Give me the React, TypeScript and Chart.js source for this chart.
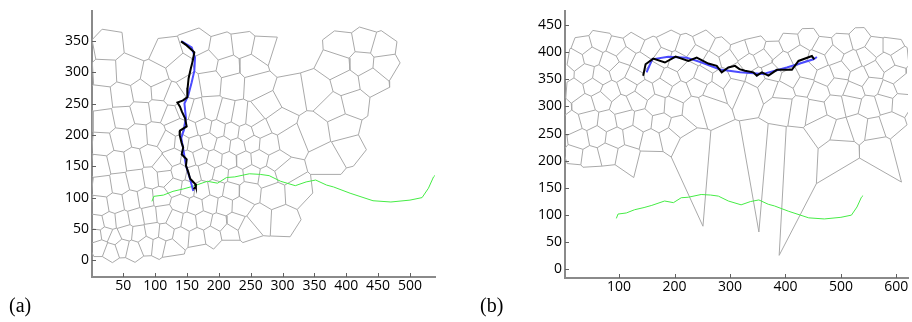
import React, { useEffect, useRef } from 'react';
import { Chart, registerables } from 'chart.js';

Chart.register(...registerables);

type P = [number, number];

// ---------- tick labels ----------
const xTicksA = [50, 100, 150, 200, 250, 300, 350, 400, 450, 500];
const yTicksA = [0, 50, 100, 150, 200, 250, 300, 350];
const xTicksB = [100, 200, 300, 400, 500, 600];
const yTicksB = [0, 50, 100, 150, 200, 250, 300, 350, 400, 450];

// ---------- true path (green), same in both panels ----------
const trueX = [95, 98, 113, 128, 145, 159, 182, 198, 212, 225, 248, 265, 279, 297, 320, 337, 352, 369, 380, 406, 442, 470, 500, 519, 529, 537, 540];
const trueY = [94, 102, 104, 110, 114, 118, 126, 123, 132, 133, 138, 137, 135, 126, 119, 125, 128, 120, 117, 107, 95, 93, 96, 100, 115, 133, 136];

// ---------- panel (a) paths ----------
const blackAX = [140.6, 149.5, 161.5, 159, 156, 152.5, 151, 150.5, 144, 135, 139, 142, 147, 149.5, 139, 138.5, 141.5, 144, 141.7, 149.5, 148.4, 152, 155, 162.6, 164, 160];
const blackAY = [349, 342.7, 331.7, 318, 306, 290, 275, 260, 255, 251.5, 245, 237, 226.6, 213.5, 206.7, 200, 187.5, 180, 169, 161, 151, 140.6, 130, 122, 117, 113.6];
const blueAX = [141.7, 157.4, 162.6, 161.5, 157.4, 152, 146, 148.4, 145.3, 141, 144.2, 148.4, 154.7, 159.9];
const blueAY = [349, 339.5, 323, 302, 284, 263, 250, 226.6, 208.3, 195, 177, 151, 130, 110.4];

// ---------- panel (b) paths ----------
const blackBX = [143.4, 147.7, 161.5, 182.6, 201.9, 224.7, 239.9, 260.9, 276, 285, 297, 309, 317, 327, 342, 348.3, 357.4, 369.3, 384.5, 411.6, 423.5, 447.7, 451.9];
const blackBY = [356.7, 377.8, 388, 380.9, 391.7, 383.8, 390, 379, 374.7, 362.8, 371.8, 374.7, 368.8, 365.7, 362.8, 356.7, 362.8, 356.7, 367.5, 367.5, 383.8, 392.8, 386.8];
const blueBX = [149.5, 159.7, 188.6, 221.8, 249, 282, 318, 360, 402.5, 450.6, 456.7];
const blueBY = [362.8, 386.8, 391.7, 389.9, 380.9, 368, 362.8, 359.7, 371.8, 386.8, 391];

// ---------- Voronoi sites, panel (a) ----------
const cellSitesA: P[] = [
  [22, 342], [20, 298], [58, 300], [118, 330], [98, 292], [165, 345], [205, 338], [238, 342], [268, 336], [140, 305], [180, 315], [215, 308], [250, 310],
  [395, 342], [428, 348], [456, 340], [385, 312], [425, 315], [460, 312],
  [15, 258], [48, 262], [80, 268], [108, 270], [128, 262], [155, 280], [185, 285], [222, 282], [258, 280], [312, 263], [355, 270], [400, 282], [440, 288],
  [380, 245], [410, 252], [350, 205], [395, 212], [372, 160], [404, 178], [312, 190],
  [20, 222], [50, 228], [78, 236], [105, 240], [125, 232],
  [145, 240], [166, 234], [188, 238], [210, 232], [232, 228], [254, 226], [276, 244], [292, 222],
  [134, 212], [154, 208], [176, 213], [198, 209], [220, 206], [242, 203], [264, 210],
  [142, 188], [162, 185], [184, 190], [206, 184], [229, 181], [252, 186], [276, 184],
  [130, 164], [151, 161], [171, 166], [193, 161], [216, 159], [239, 160], [263, 162], [290, 156],
  [139, 141], [159, 137], [181, 142], [203, 137], [226, 135], [251, 138], [276, 134], [302, 142],
  [131, 117], [151, 114], [173, 111], [196, 115], [219, 111], [246, 110], [286, 106], [322, 108],
  [141, 91], [163, 87], [186, 90], [209, 87], [233, 86],
  [131, 65], [153, 61], [176, 64], [200, 59], [225, 62], [262, 66], [302, 64],
  [141, 39], [165, 37], [190, 41], [215, 46], [245, 52],
  [18, 185], [46, 192], [74, 198], [100, 200], [120, 190],
  [14, 150], [40, 156], [66, 160], [92, 166], [112, 150],
  [18, 118], [44, 122], [70, 128], [94, 132], [114, 134],
  [14, 86], [38, 90], [62, 94], [86, 98], [108, 100],
  [10, 58], [28, 62], [48, 64], [70, 68], [92, 72], [112, 74],
  [8, 40], [22, 42], [36, 36], [54, 44], [74, 42], [96, 46], [116, 44],
  [14, 22], [30, 16], [48, 22], [66, 18], [86, 26], [106, 24], [124, 20],
];
const outerSitesA: P[] = [
  [-15, 8], [-15, 38], [-15, 65], [-15, 92], [-15, 122], [-15, 155], [-15, 188], [-15, 222], [-15, 258], [-15, 296], [-15, 335], [-10, 372],
  [30, 392], [78, 348], [112, 380], [150, 388], [192, 382], [232, 384], [270, 378], [300, 326], [332, 338], [362, 385], [400, 386], [440, 388], [480, 374],
  [500, 334], [494, 292], [462, 246], [446, 200], [440, 150], [418, 122], [372, 114], [350, 82], [340, 40],
  [300, 12], [258, 14], [215, 18], [170, 10], [128, -6], [88, -12], [50, -14], [14, -10],
];

// ---------- Voronoi sites, panel (b) ----------
const cellSitesB: P[] = [
  [35, 412], [64, 420], [97, 408], [126, 418], [158, 405], [190, 420], [220, 410], [254, 422], [283, 408], [316, 402], [347, 412], [376, 404], [408, 418], [441, 425], [468, 410], [503, 416], [533, 424], [560, 408], [594, 410],
  [20, 386], [50, 393], [84, 382], [110, 395], [141, 380], [178, 391], [205, 383], [240, 396], [266, 381], [297, 389], [332, 379], [360, 391], [395, 382], [423, 395], [458, 386], [486, 396], [520, 383], [546, 393], [580, 381], [606, 392],
  [40, 360], [66, 356], [100, 366], [126, 354], [162, 364], [190, 352], [224, 365], [250, 355], [286, 351], [312, 363], [348, 353], [374, 362], [410, 352], [438, 366], [472, 355], [498, 365], [534, 355], [560, 367], [596, 358],
  [18, 330], [54, 338], [82, 327], [117, 339], [144, 329], [180, 337], [208, 326], [242, 339], [270, 327], [306, 337], [334, 325], [368, 337], [396, 327], [432, 339], [460, 327], [494, 338], [522, 327], [557, 339], [584, 329], [611, 340],
  [38, 303], [68, 312], [104, 301], [132, 313], [168, 302], [196, 300], [234, 296], [262, 304], [394, 303], [426, 298], [454, 294], [490, 302], [518, 308], [552, 300], [578, 308], [608, 306],
  [15, 268], [45, 276], [78, 272], [110, 278], [142, 274], [176, 270], [205, 262],
  [28, 240], [60, 246], [92, 242], [124, 246], [158, 238], [190, 245],
  [18, 210], [48, 206], [80, 214], [112, 208], [157, 197],
  [226, 228], [300, 222], [350, 230.6], [381, 228], [418, 226],
  [470, 262], [502, 252], [532, 262], [560, 258], [590, 268], [500, 222],
  [533, 167.5], [566, 224], [617, 237],
];
const outerSitesB: P[] = [
  [-12, 200], [-14, 235], [-20, 270], [-10, 300], [-8, 332], [-2, 362], [-4, 390], [0, 425],
  [30, 445], [70, 455], [105, 446], [140, 442], [175, 450], [208, 456], [240, 450], [275, 446], [305, 432], [340, 442], [375, 436], [410, 450], [440, 462], [472, 446], [505, 452], [532, 466], [565, 448], [598, 440], [628, 428],
  [636, 395], [640, 360], [642, 322], [642, 285], [660, 252],
  [15, 178], [50, 172], [85, 169.5],
];

// ---------- geometry helpers ----------
type Tri = { v: [number, number, number]; x: number; y: number; r: number };

function circum(pts: P[], a: number, b: number, c: number): Tri {
  const [ax, ay] = pts[a];
  const [bx, by] = pts[b];
  const [cx, cy] = pts[c];
  const d = 2 * (ax * (by - cy) + bx * (cy - ay) + cx * (ay - by));
  const a2 = ax * ax + ay * ay, b2 = bx * bx + by * by, c2 = cx * cx + cy * cy;
  const ux = (a2 * (by - cy) + b2 * (cy - ay) + c2 * (ay - by)) / d;
  const uy = (a2 * (cx - bx) + b2 * (ax - cx) + c2 * (bx - ax)) / d;
  return { v: [a, b, c], x: ux, y: uy, r: (ax - ux) ** 2 + (ay - uy) ** 2 };
}

function delaunay(input: P[]): Tri[] {
  const n = input.length;
  let minX = Infinity, minY = Infinity, maxX = -Infinity, maxY = -Infinity;
  for (const [x, y] of input) {
    minX = Math.min(minX, x); maxX = Math.max(maxX, x);
    minY = Math.min(minY, y); maxY = Math.max(maxY, y);
  }
  const dm = Math.max(maxX - minX, maxY - minY) * 60;
  const mx = (minX + maxX) / 2, my = (minY + maxY) / 2;
  const pts: P[] = input.concat([[mx - dm, my - dm], [mx, my + dm], [mx + dm, my - dm]]);
  let tris: Tri[] = [circum(pts, n, n + 1, n + 2)];
  for (let i = 0; i < n; i++) {
    const [px, py] = pts[i];
    const good: Tri[] = [];
    const edges = new Map<string, [number, number, number]>();
    for (const t of tris) {
      const dx = px - t.x, dy = py - t.y;
      if (dx * dx + dy * dy < t.r) {
        const [a, b, c] = t.v;
        for (const [u, w] of [[a, b], [b, c], [c, a]]) {
          const k = u < w ? u + '_' + w : w + '_' + u;
          const e = edges.get(k);
          if (e) e[2]++; else edges.set(k, [u, w, 1]);
        }
      } else good.push(t);
    }
    for (const [u, w, cnt] of edges.values()) if (cnt === 1) good.push(circum(pts, u, w, i));
    tris = good;
  }
  return tris.filter(t => t.v.every(v => v < n));
}

function voronoiData(inner: P[], outer: P[], xr: P, yr: P, margin: number) {
  const pts = inner.concat(outer);
  const nIn = inner.length;
  const tris = delaunay(pts);
  const map = new Map<string, number[]>();
  tris.forEach((t, k) => {
    const [a, b, c] = t.v;
    for (const [u, w] of [[a, b], [b, c], [c, a]]) {
      const key = u < w ? u + '_' + w : w + '_' + u;
      const l = map.get(key);
      if (l) l.push(k); else map.set(key, [k]);
    }
  });
  const ok = (x: number, y: number) =>
    x >= xr[0] - margin && x <= xr[1] + margin && y >= yr[0] - margin && y <= yr[1] + margin;
  const out: { x: number; y: number | null }[] = [];
  for (const [key, list] of map) {
    if (list.length !== 2) continue;
    const [u, w] = key.split('_').map(Number);
    if (u >= nIn && w >= nIn) continue;
    const t1 = tris[list[0]], t2 = tris[list[1]];
    if (!ok(t1.x, t1.y) || !ok(t2.x, t2.y)) continue;
    out.push({ x: t1.x, y: t1.y }, { x: t2.x, y: t2.y }, { x: t2.x, y: null });
  }
  return out;
}

const zip = (xs: number[], ys: number[]) => xs.map((x, i) => ({ x, y: ys[i] }));

const inwardTicks = {
  id: 'inwardTicks',
  afterDatasetsDraw(chart: any) {
    const { ctx, chartArea, scales } = chart;
    ctx.save();
    ctx.strokeStyle = '#606060';
    ctx.lineWidth = 1;
    for (const t of scales.x.ticks) {
      const px = Math.round(scales.x.getPixelForValue(t.value)) + 0.5;
      ctx.beginPath(); ctx.moveTo(px, chartArea.bottom); ctx.lineTo(px, chartArea.bottom - 4); ctx.stroke();
    }
    for (const t of scales.y.ticks) {
      const py = Math.round(scales.y.getPixelForValue(t.value)) + 0.5;
      ctx.beginPath(); ctx.moveTo(chartArea.left, py); ctx.lineTo(chartArea.left + 4, py); ctx.stroke();
    }
    ctx.restore();
  },
};

type PanelCfg = {
  left: number;
  xr: P; yr: P;
  xTicks: number[]; yTicks: number[];
  yAxisWidth: number; xAxisHeight: number; padRight: number;
  inner: P[]; outer: P[]; margin: number;
  blackX: number[]; blackY: number[]; blueX: number[]; blueY: number[];
};

function Panel({ cfg }: { cfg: PanelCfg }) {
  const ref = useRef<HTMLCanvasElement>(null);
  useEffect(() => {
    const vor = voronoiData(cfg.inner, cfg.outer, cfg.xr, cfg.yr, cfg.margin);
    const font = { family: "'Open Sans', 'Liberation Sans', Arial, sans-serif", size: 14 };
    const border = { display: true, color: '#8a8a8a', width: 2 };
    const grid = { display: false, drawTicks: false, tickLength: 0 };
    const chart = new Chart(ref.current as HTMLCanvasElement, {
      type: 'scatter',
      data: {
        datasets: [
          { data: zip(cfg.blackX, cfg.blackY), showLine: true, borderColor: '#000000', borderWidth: 2, pointRadius: 0 },
          { data: zip(cfg.blueX, cfg.blueY), showLine: true, borderColor: '#4b4bff', borderWidth: 2, pointRadius: 0 },
          { data: zip(trueX, trueY), showLine: true, borderColor: '#45ec45', borderWidth: 1, pointRadius: 0 },
          { data: vor as any, showLine: true, borderColor: '#a9a9a9', borderWidth: 1, pointRadius: 0, spanGaps: false },
        ],
      },
      options: {
        animation: false,
        responsive: false,
        maintainAspectRatio: false,
        events: [],
        layout: { padding: { top: 6, right: cfg.padRight, bottom: 0, left: 0 } },
        plugins: { legend: { display: false }, tooltip: { enabled: false } },
        scales: {
          x: {
            type: 'linear', min: cfg.xr[0], max: cfg.xr[1],
            grid, border,
            afterBuildTicks: (s: any) => { s.ticks = cfg.xTicks.map(v => ({ value: v })); },
            afterFit: (s: any) => { s.height = cfg.xAxisHeight; },
            ticks: { color: '#000', font, padding: 1, maxRotation: 0, autoSkip: false, callback: (v: any) => String(v) },
          },
          y: {
            type: 'linear', min: cfg.yr[0], max: cfg.yr[1],
            grid, border,
            afterBuildTicks: (s: any) => { s.ticks = cfg.yTicks.map(v => ({ value: v })); },
            afterFit: (s: any) => { s.width = cfg.yAxisWidth; },
            ticks: { color: '#000', font, padding: 3, autoSkip: false, callback: (v: any) => String(v) },
          },
        },
      } as any,
      plugins: [inwardTicks],
    });
    return () => chart.destroy();
  }, []);
  return (
    <canvas
      ref={ref}
      width={456}
      height={322}
      style={{ position: 'absolute', left: cfg.left, top: 0, width: 456, height: 322 }}
    />
  );
}

const panelA: PanelCfg = {
  left: 0, xr: [0.9, 539.3], yr: [-26.6, 396.9], xTicks: xTicksA, yTicks: yTicksA,
  yAxisWidth: 92, xAxisHeight: 45, padRight: 21,
  inner: cellSitesA, outer: outerSitesA, margin: 20,
  blackX: blackAX, blackY: blackAY, blueX: blueAX, blueY: blueAY,
};
const panelB: PanelCfg = {
  left: 456, xr: [2.4, 621], yr: [-15.7, 475], xTicks: xTicksB, yTicks: yTicksB,
  yAxisWidth: 109, xAxisHeight: 44, padRight: 4,
  inner: cellSitesB, outer: outerSitesB, margin: 10,
  blackX: blackBX, blackY: blackBY, blueX: blueBX, blueY: blueBY,
};

const labelStyle: React.CSSProperties = {
  position: 'absolute', top: 295, fontFamily: "'Liberation Serif', 'Times New Roman', serif",
  fontSize: 20, lineHeight: '20px', color: '#000',
};

export default function App() {
  return (
    <div style={{ position: 'absolute', left: 0, top: 0, width: 912, height: 322, background: '#fff', overflow: 'hidden' }}>
      <Panel cfg={panelA} />
      <Panel cfg={panelB} />
      <div style={{ ...labelStyle, left: 9 }}>(a)</div>
      <div style={{ ...labelStyle, left: 480 }}>(b)</div>
    </div>
  );
}
